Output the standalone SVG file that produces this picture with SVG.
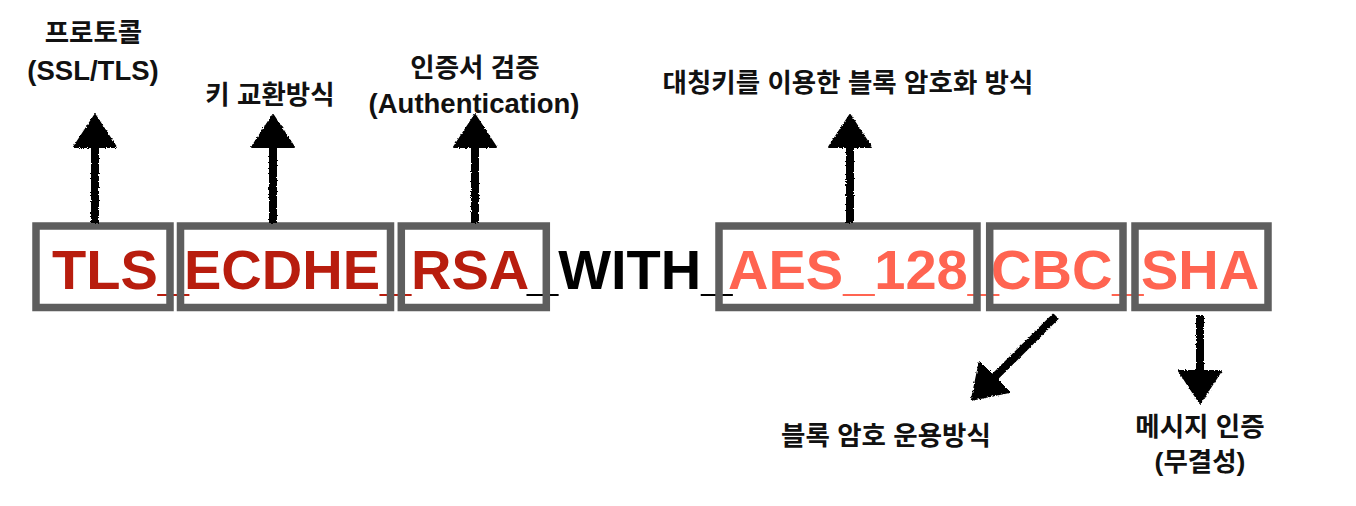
<svg xmlns="http://www.w3.org/2000/svg" width="1356" height="506" viewBox="0 0 1356 506">
  <style>
    .seg { font-family: "Liberation Sans", Arial, sans-serif; font-weight: bold; font-size: 56px; }
    .dark { fill: #b81d0e; }
    .salmon { fill: #ff6451; }
    .black { fill: #000000; }
    .box { fill: none; stroke: #5e5e5e; stroke-width: 7.5; }
    .lbl { font-family: "Liberation Sans", "Noto Sans CJK KR", sans-serif; font-weight: bold; font-size: 26.5px; fill: #111111; text-anchor: middle; }
    .lat { font-size: 27.5px; }
    .arrow { stroke: #000000; stroke-width: 8; fill: none; marker-end: url(#head); filter: url(#rough); }
  </style>
  <defs>
    <filter id="rough" filterUnits="userSpaceOnUse" x="0" y="0" width="1356" height="506">
      <feTurbulence type="fractalNoise" baseFrequency="0.6" numOctaves="2" seed="3" result="n"/>
      <feDisplacementMap in="SourceGraphic" in2="n" scale="3" xChannelSelector="R" yChannelSelector="G"/>
    </filter>
    <marker id="head" markerUnits="userSpaceOnUse" markerWidth="34" markerHeight="44" viewBox="0 0 34 44" refX="1" refY="22" orient="auto">
      <path d="M1,1 L33,22 L1,43 Z" fill="#000000" stroke="#000000" stroke-width="2" stroke-linejoin="round"/>
    </marker>
  </defs>

  <rect width="1356" height="506" fill="#ffffff"/>

  <g id="node-tls">
    <text class="seg dark" x="52" y="289">TLS_</text>
    <rect class="box" x="36" y="226" width="134" height="81.5"/>
  </g>
  <g id="node-ecdhe">
    <text class="seg dark" x="184" y="289">ECDHE_</text>
    <rect class="box" x="180.5" y="226" width="210" height="81.5"/>
  </g>
  <g id="node-rsa">
    <text class="seg dark" x="411" y="289">RSA</text>
    <text class="seg black" x="527" y="289">_WITH_</text>
    <rect class="box" x="401.3" y="226" width="145" height="81.5"/>
  </g>
  <g id="node-aes">
    <text class="seg salmon" x="728" y="289">AES_128_</text>
    <rect class="box" x="719" y="226" width="258" height="81.5"/>
  </g>
  <g id="node-cbc">
    <text class="seg salmon" x="991" y="289">CBC_</text>
    <rect class="box" x="989.7" y="226" width="133.3" height="81.5"/>
  </g>
  <g id="node-sha">
    <text class="seg salmon" x="1141" y="289">SHA</text>
    <rect class="box" x="1135" y="226" width="133" height="81.5"/>
  </g>

  <g id="label-protocol">
    <text class="lbl" x="93.5" y="42">프로토콜</text>
    <text class="lbl lat" x="93" y="80">(SSL/TLS)</text>
  </g>
  <g id="label-keyexchange">
    <text class="lbl" x="270" y="104">키 교환방식</text>
  </g>
  <g id="label-auth">
    <text class="lbl" x="475" y="77">인증서 검증</text>
    <text class="lbl lat" x="474" y="113">(Authentication)</text>
  </g>
  <g id="label-cipher">
    <text class="lbl" x="848" y="92">대칭키를 이용한 블록 암호화 방식</text>
  </g>
  <g id="label-mode">
    <text class="lbl" x="886" y="445">블록 암호 운용방식</text>
  </g>
  <g id="label-mac">
    <text class="lbl" x="1200" y="436">메시지 인증</text>
    <text class="lbl" x="1200" y="471">(무결성)</text>
  </g>

  <g id="connectors">
    <line class="arrow" x1="95" y1="223" x2="95" y2="147"/>
    <line class="arrow" x1="273" y1="223" x2="273" y2="147"/>
    <line class="arrow" x1="475" y1="223" x2="475" y2="147"/>
    <line class="arrow" x1="850" y1="223" x2="850" y2="147"/>
    <line class="arrow" x1="1056" y1="316" x2="994.5" y2="377.2"/>
    <line class="arrow" x1="1200" y1="315" x2="1200" y2="371"/>
  </g>
</svg>
